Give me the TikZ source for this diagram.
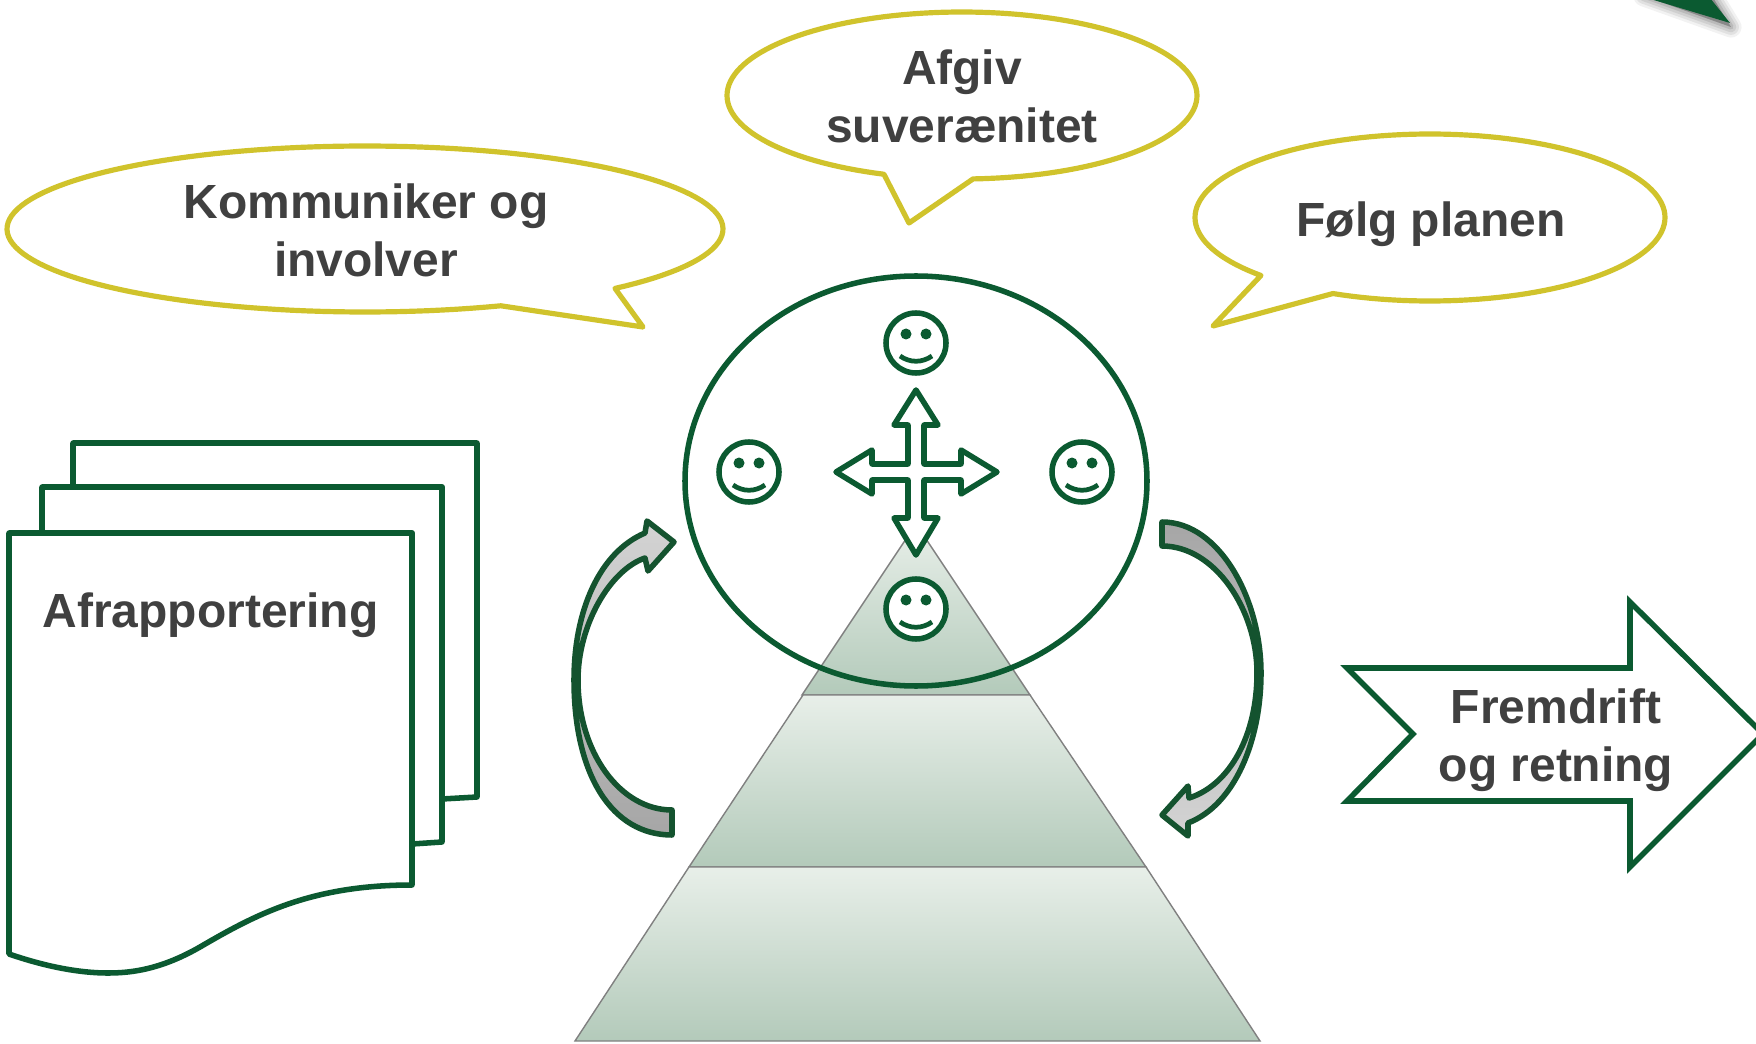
\documentclass[tikz,border=0pt]{standalone}
\usepackage{fontspec}
\setmainfont{Liberation Sans}
\usetikzlibrary{calc}
\definecolor{dgreen}{HTML}{0B5A31}
\definecolor{arrowgreen}{HTML}{14532F}
\definecolor{bubble}{HTML}{D0C32C}
\definecolor{textgray}{HTML}{404040}
\definecolor{tierlight}{HTML}{E8EFE9}
\definecolor{tierdark}{HTML}{B3CABA}
\tikzset{
  greenline/.style={draw=dgreen,line width=3.15pt,line join=round},
  page/.style={greenline,fill=white},
  bubbleline/.style={draw=bubble,fill=white,line width=2.95pt,line join=round},
  tier/.style={draw=black!50,line width=0.8pt,top color=tierlight,bottom color=tierdark},
  curvearrow/.style={draw=arrowgreen,line width=3.15pt,line join=round},
  lbl/.style={font=\fontsize{27.3}{33}\selectfont\bfseries,text=textgray,align=center,inner sep=0pt},
  pics/smiley/.style={code={
    \draw[greenline,fill=white] (0,0) circle [radius=30];
    \fill[dgreen] (-10,-9) circle [radius=5.5];
    \fill[dgreen] (10,-9) circle [radius=5.5];
    \draw[draw=dgreen,line width=2.7pt] (-16,13) .. controls (-6,20) and (6,20) .. (16,13);
  }}
}
\newcommand{\bubblepath}[8]{%
  \draw[bubbleline] plot[domain=#5:#6,samples=140] ({#1+#3*cos(\x)},{#2+#4*sin(\x)}) -- (#7,#8) -- cycle;}
\begin{document}
\begin{tikzpicture}[x=0.02cm,y=-0.02cm]
\useasboundingbox (0,0) rectangle (1756,1044);
\clip (0,0) rectangle (1756,1044);

% corner triangle with soft shadow
\foreach \w/\o in {12/.05,9/.07,6/.08,3/.1}{
  \draw[black,opacity=\o,fill=black,line width=\w pt,line join=round] (1644,-4) -- (1731,27) -- (1712,-4) -- cycle;
}
\fill[dgreen] (1647,-2) -- (1730,23) -- (1710,-2) -- cycle;

% callouts
\bubblepath{365}{229}{358}{83}{67.7}{405.7}{643}{327}
\bubblepath{962}{95.5}{235}{83.5}{109.4}{447.3}{909}{223}
\bubblepath{1430}{217.5}{235}{83.5}{136}{474.4}{1213}{326}
\node[lbl] (komm) at (366,230) {Kommuniker og\\involver};
\node[lbl] (afgiv) at (962,96) {Afgiv\\suverænitet};
\node[lbl] (folg) at (1431,224.5) {Følg planen};

% stacked pages
\draw[page] (73,487) -- (73,443) -- (477,443) -- (477,797) -- (442,799) -- (442,487) -- cycle;
\draw[page] (42,533) -- (42,487) -- (442,487) -- (442,842) -- (412,844) -- (412,533) -- cycle;
\draw[page] (9,533) -- (412,533) -- (412,885)
  .. controls (310,885) and (255,915) .. (200,947)
  .. controls (160,970) and (130,973) .. (108,973)
  .. controls (72,973) and (35,963) .. (9,954) -- cycle;
\node[lbl] (afr) at (210.5,615.5) {Afrapportering};

% pyramid
\path[tier] (916,524) -- (1030,695) -- (802,695) -- cycle;
\path[tier] (803,695) -- (1030,695) -- (1146,867) -- (689,867) -- cycle;
\path[tier] (689,867) -- (1146,867) -- (1260,1041) -- (575,1041) -- cycle;

% circle
\draw[greenline] (916,481) ellipse [x radius=231,y radius=205];

% four-way arrow
\draw[page] (916,390) -- (938,425) -- (924,425) -- (924,464) -- (961,464) -- (961,450) -- (997,472)
  -- (961,494) -- (961,480) -- (924,480) -- (924,518) -- (938,518) -- (916,555)
  -- (894,518) -- (908,518) -- (908,480) -- (872,480) -- (872,494) -- (836,472)
  -- (872,450) -- (872,464) -- (908,464) -- (908,425) -- (894,425) -- cycle;

% smileys
\pic at (916,343) {smiley};
\pic at (749,472) {smiley};
\pic at (1082,472) {smiley};
\pic at (916,609) {smiley};

% curved arrows
\draw[curvearrow,top color=black!17,bottom color=black!35]
  (674,542) -- (647,521) -- (645,533)
  .. controls (600,552) and (574,610) .. (574,680)
  .. controls (574,775) and (612,835) .. (672,835)
  -- (672,810)
  .. controls (620,810) and (578,752) .. (578,680)
  .. controls (578,625) and (610,570) .. (645,558)
  -- (648,571) -- cycle;
\draw[curvearrow,top color=black!35,bottom color=black!17]
  (1162,522) .. controls (1220,522) and (1261,600) .. (1261,673)
  .. controls (1261,740) and (1235,805) .. (1188,823)
  -- (1188,836) -- (1162,815) -- (1188,786) -- (1189,798)
  .. controls (1230,785) and (1257,735) .. (1257,673)
  .. controls (1257,610) and (1215,546) .. (1162,546) -- cycle;

% big arrow
\draw[draw=dgreen,fill=white,line width=3.15pt,miter limit=10]
  (1347,668) -- (1630,668) -- (1630,602) -- (1763,734) -- (1630,867) -- (1630,801) -- (1347,801) -- (1413,734) -- cycle;
\node[lbl] (frem) at (1556,740.5) {Fremdrift\\og retning};
\end{tikzpicture}
\end{document}
